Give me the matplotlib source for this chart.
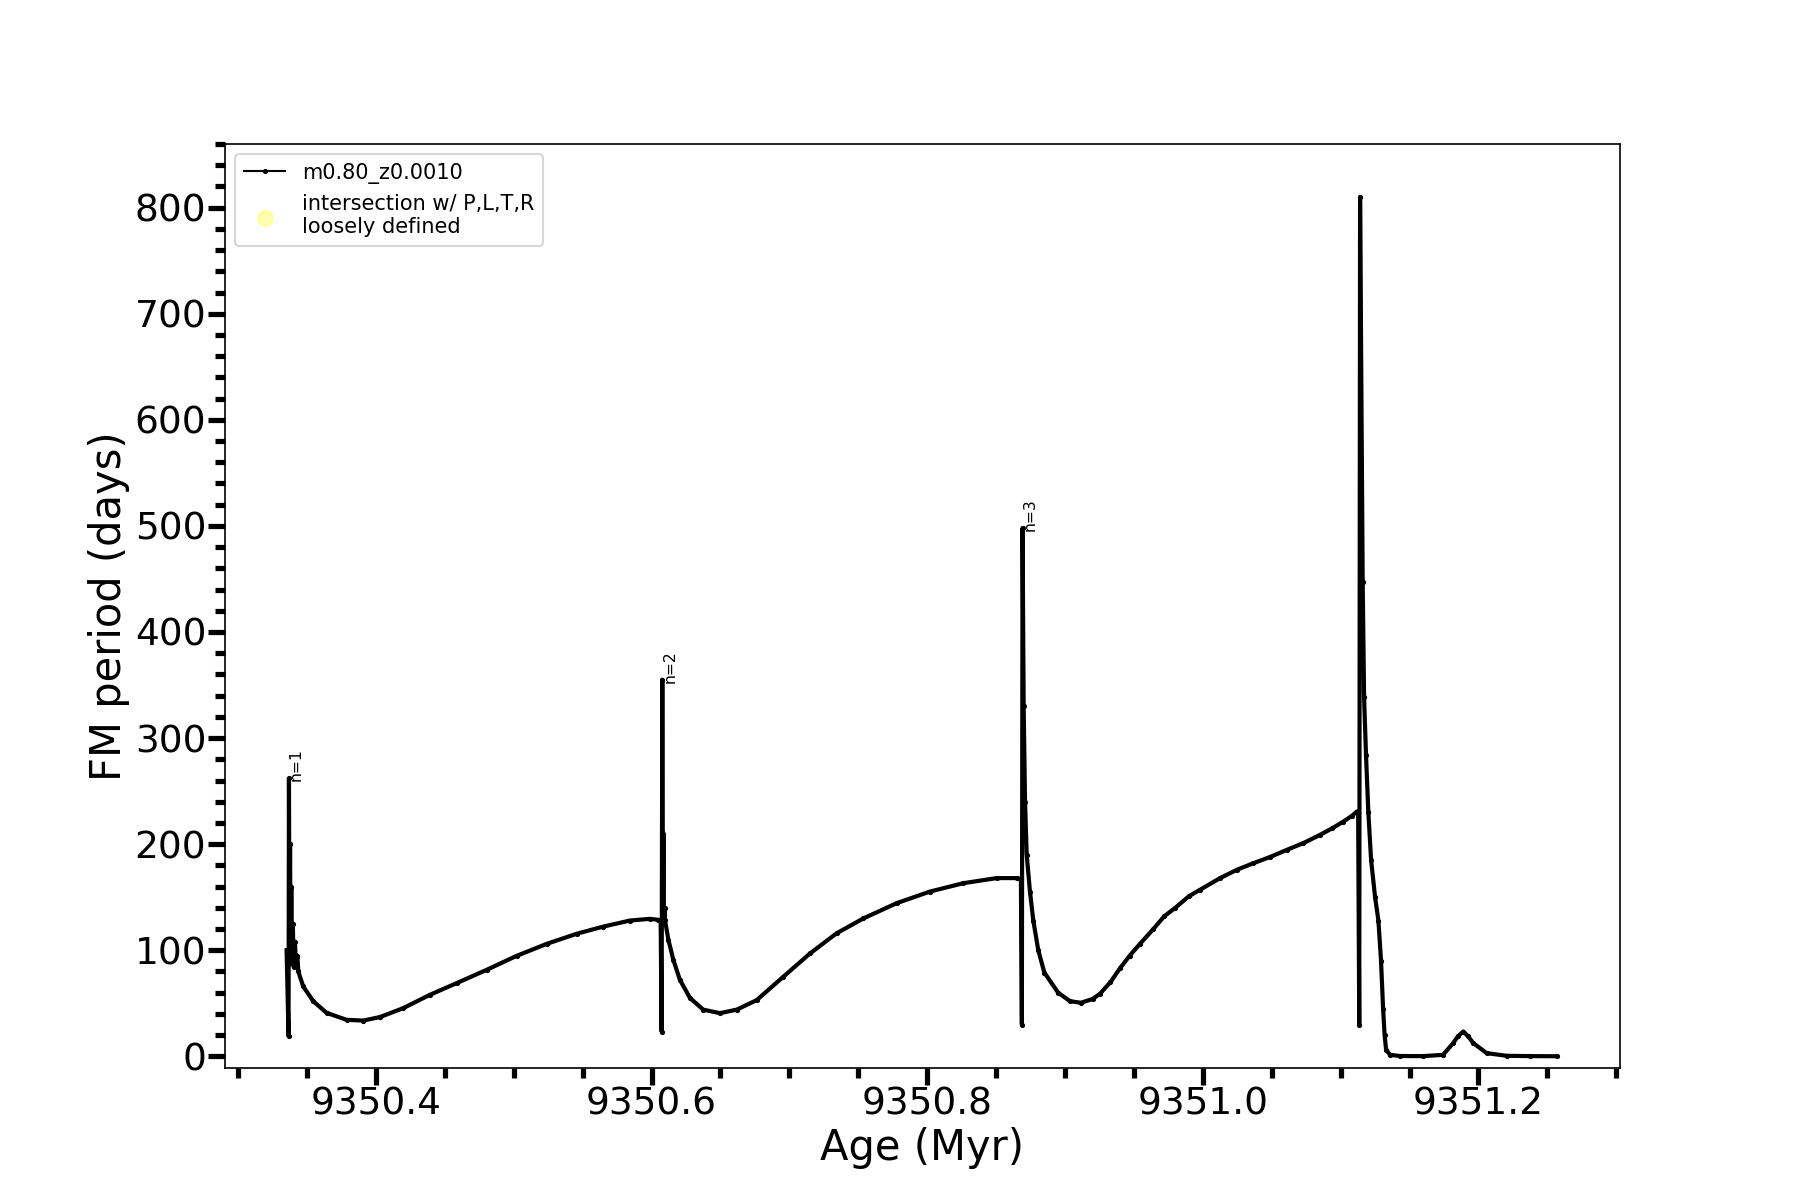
import matplotlib
matplotlib.use("Agg")
import matplotlib.pyplot as plt

# thermal pulses (age in Myr, FM period in days)
age_tp1 = [9350.3352, 9350.3366, 9350.3369, 9350.3373, 9350.3377, 9350.3381, 9350.3386, 9350.3391,
           9350.3397, 9350.3404, 9350.3412, 9350.3421, 9350.3430, 9350.3437, 9350.3472, 9350.3545,
           9350.3642, 9350.3787, 9350.3908, 9350.4029, 9350.4198, 9350.4392, 9350.4586, 9350.4803,
           9350.5021, 9350.5239, 9350.5456, 9350.5650, 9350.5843, 9350.5988, 9350.6049, 9350.6066]
per_tp1 = [100, 19, 262, 95, 200, 88, 160, 92,
           125, 84, 108, 85, 95, 80, 66, 52,
           41, 34.4, 33.7, 37, 45.4, 58, 69, 81.5,
           94.7, 106, 115.5, 122.3, 128, 129.6, 128.7, 127]

age_tp2 = [9350.6073, 9350.6078, 9350.6082, 9350.6086, 9350.6090, 9350.6094, 9350.6097, 9350.6122,
           9350.6158, 9350.6206, 9350.6279, 9350.6375, 9350.6496, 9350.6618, 9350.6763, 9350.6956,
           9350.7150, 9350.7343, 9350.7537, 9350.7779, 9350.8020, 9350.8262, 9350.8504, 9350.8650,
           9350.8680]
per_tp2 = [23.4, 355, 135, 210, 132, 140, 128.6, 110,
           91, 72, 55, 44, 40.7, 44, 53, 75,
           97, 116, 130, 144.4, 155.3, 163.2, 168, 168,
           167]

age_tp3 = [9350.8687, 9350.8692, 9350.8700, 9350.8710, 9350.8722, 9350.8746, 9350.8770, 9350.8806,
           9350.8850, 9350.8950, 9350.9036, 9350.9115, 9350.9200, 9350.9254, 9350.9330, 9350.9399,
           9350.9470, 9350.9544, 9350.9641, 9350.9720, 9350.9800, 9350.9900, 9350.9980, 9351.0125,
           9351.0250, 9351.0366, 9351.0490, 9351.0609, 9351.0730, 9351.0851, 9351.0940, 9351.1020,
           9351.1080, 9351.1117, 9351.1127]
per_tp3 = [30, 498, 330, 240, 190, 155, 128, 100,
           79, 60, 52, 50.5, 54, 59, 70, 83,
           95, 106, 120, 132, 140, 151, 157, 168,
           176, 182, 188, 194.6, 201, 208.8, 215, 221.3,
           226.5, 230.7, 230]

age_tp4 = [9351.1135, 9351.1141, 9351.1160, 9351.1170, 9351.1184, 9351.1201, 9351.1221, 9351.1250,
           9351.1274, 9351.1293, 9351.1308, 9351.1319, 9351.1330, 9351.1359, 9351.1432, 9351.1598,
           9351.1743, 9351.1816, 9351.1852, 9351.1890, 9351.1924, 9351.1963, 9351.2060, 9351.2205,
           9351.2374, 9351.2568]
per_tp4 = [30, 810, 447, 339, 284, 230, 185, 150,
           128, 90, 45, 20, 6, 1.4, 0.3, 0.2,
           1.4, 12.4, 19, 23.4, 19, 12.4, 3, 0.5,
           0.2, 0.1]

# pulse labels
peak_age = [9350.3369, 9350.6078, 9350.8692]
peak_per = [262, 355, 498]
peak_lab = ['n=1', 'n=2', 'n=3']

age = age_tp1 + age_tp2 + age_tp3 + age_tp4
per = per_tp1 + per_tp2 + per_tp3 + per_tp4

fig, ax = plt.subplots(figsize=(12, 8), dpi=150)

ax.plot(age, per, color='k', lw=2.0)
ax.plot(age, per, color='k', lw=1, marker='.', ms=3, label='m0.80_z0.0010')
# no intersections here, only the legend entry
ax.scatter([], [], s=50, color='yellow', alpha=0.3,
           label='intersection w/ P,L,T,R\nloosely defined')

for a, p, t in zip(peak_age, peak_per, peak_lab):
    ax.text(a, p, t, rotation=90, fontsize=7.5)

ax.set_xlim(9350.2905, 9351.3027)
ax.set_ylim(-11, 860)
ax.ticklabel_format(useOffset=False)
ax.minorticks_on()
ax.tick_params(which='major', length=8, width=2.5, labelsize=18, pad=1)
ax.tick_params(which='minor', length=5, width=2.5)
ax.set_xlabel('Age (Myr)', fontsize=20, labelpad=2)
ax.set_ylabel('FM period (days)', fontsize=20, labelpad=2)
ax.legend(loc='upper left')

plt.savefig('out.png')
